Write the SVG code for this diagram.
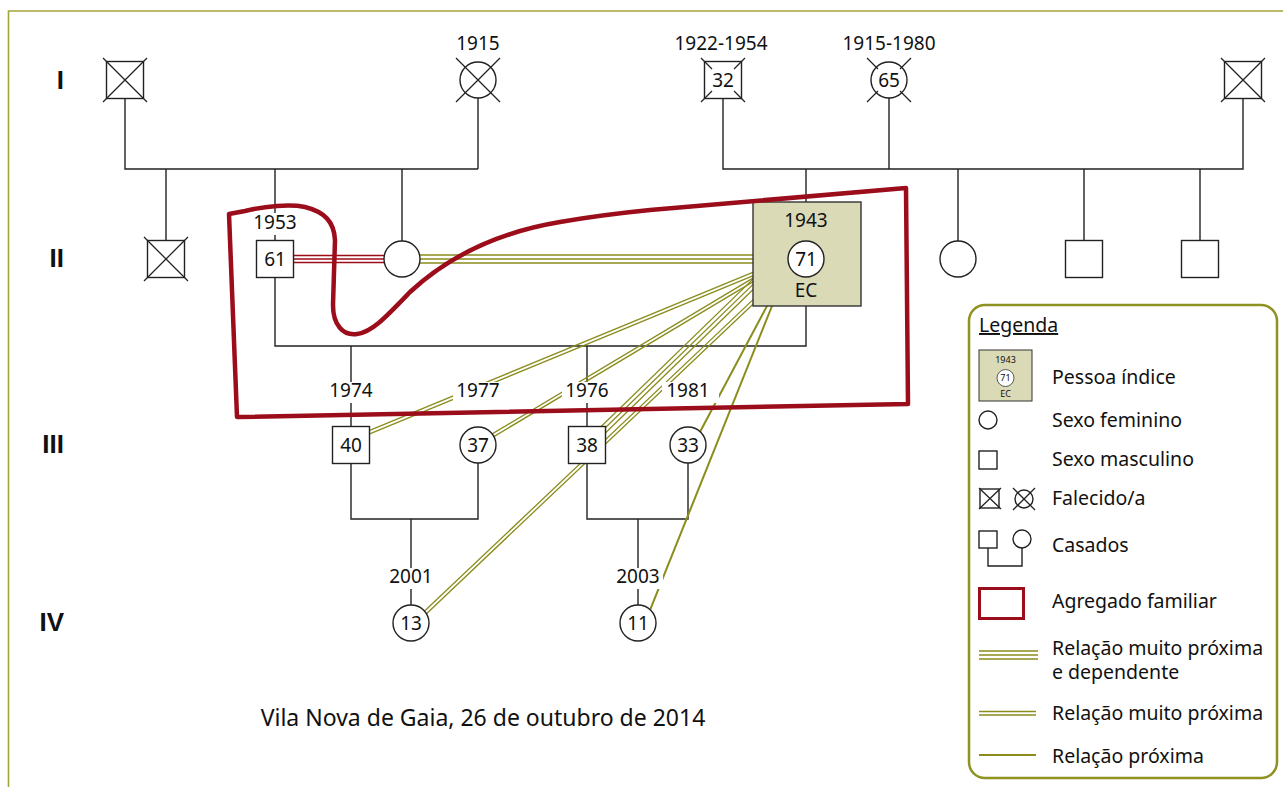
<svg xmlns="http://www.w3.org/2000/svg" width="1283" height="787" viewBox="0 0 1283 787">
<style>
.ln{stroke:#222;stroke-width:1.4;fill:none}
.nd{fill:#fff;stroke:#222;stroke-width:1.4}
.x{stroke:#222;stroke-width:1.3;fill:none}
.ol{stroke:#8a8c1c;stroke-width:1.3;fill:none}
.ol1{stroke:#8a8c1c;stroke-width:2;fill:none}
.rd{stroke:#9b0d1b;stroke-width:1.3;fill:none}
.t{font-family:"Noto Sans","Open Sans",sans-serif;font-size:19px;fill:#111;text-anchor:middle}
.g{font-family:"Liberation Sans","DejaVu Sans",sans-serif;font-size:26px;font-weight:bold;fill:#111;text-anchor:end}
.lt{font-family:"Noto Sans","Open Sans",sans-serif;font-size:19.5px;fill:#111}
.s{font-family:"Noto Sans","Open Sans",sans-serif;font-size:9px;fill:#111;text-anchor:middle}
.bg{fill:#fff}
.idx{fill:#dadab7;stroke:#333;stroke-width:1.4}
</style>
<g id="frame">
<path d="M8.5 787 V11 H1283" fill="none" stroke="#a3a43c" stroke-width="1.6"/>
</g>
<g id="generations">
<text class="g" x="64" y="89">I</text>
<text class="g" x="64" y="267">II</text>
<text class="g" x="64" y="453">III</text>
<text class="g" x="64" y="631">IV</text>
</g>
<g id="connectors">
<path class="ln" d="M125 98.5 V169 H478 M478 98 V169 M166 169 V240.5 M275 169 V240.5 M402 169 V241"/>
<path class="ln" d="M723 98.5 V169 H1243 V98.5 M889 98 V169 M806 169 V202 M958 169 V241 M1084 169 V240.5 M1200 169 V240.5"/>
<path class="ln" d="M275 277.5 V346 H806 V306 M351 346 V426.5 M587 346 V426.5"/>
<path class="ln" d="M351 463.5 V519 H478 V463 M411 519 V605 M587 463.5 V519 H688 V463 M638 519 V605"/>
<path class="rd" d="M280 255.5 H395 M280 259 H395 M280 262.5 H395"/>
<path class="ol" d="M410 255 H760 M410 259 H760 M410 263 H760"/>
<path class="ol" d="M360.61 437.58 L760.61 272.58 M359.39 434.62 L759.39 269.62"/>
<path class="ol" d="M485.82 441.37 L760.82 277.17 M484.18 438.63 L759.18 274.43"/>
<path class="ol" d="M595 437.7 L760 277.6 M597.65 440.43 L762.65 280.33 M592.35 434.97 L757.35 274.87"/>
<path class="ol" d="M419.1 620.66 L761.1 296.46 M416.9 618.34 L758.9 294.14"/>
<path class="ol1" d="M695.3 440.8 L770.8 298.9"/>
<path class="ol1" d="M646.3 619.3 L775 298.5"/>
</g>
<g id="labels">
<rect class="bg" x="250" y="213" width="50" height="22"/><text class="t" x="275" y="229">1953</text>
<rect class="bg" x="326" y="382" width="50" height="21"/><text class="t" x="351" y="397">1974</text>
<rect class="bg" x="453" y="382" width="50" height="21"/><text class="t" x="478" y="397">1977</text>
<rect class="bg" x="562" y="382" width="50" height="21"/><text class="t" x="587" y="397">1976</text>
<rect class="bg" x="662" y="382" width="57" height="21"/><text class="t" x="688" y="397">1981</text>
<rect class="bg" x="386" y="568" width="50" height="21"/><text class="t" x="411" y="583">2001</text>
<rect class="bg" x="613" y="568" width="50" height="21"/><text class="t" x="638" y="583">2003</text>
<text class="t" x="478" y="50">1915</text>
<text class="t" x="721" y="50">1922-1954</text>
<text class="t" x="889" y="50">1915-1980</text>
</g>
<g id="n-I1"><rect class="nd" x="106.5" y="61.5" width="37" height="37"/><path class="x" d="M103 58 L147 102 M147 58 L103 102"/></g>
<g id="n-I2"><circle class="nd" cx="478" cy="80" r="18"/><path class="x" d="M456 58 L500 102 M500 58 L456 102"/></g>
<g id="n-I3"><rect class="nd" x="704.5" y="61.5" width="37" height="37"/><path class="x" d="M701 58 L712 69 M745 58 L734 69 M701 102 L712 91 M745 102 L734 91"/><text class="t" x="723" y="87">32</text></g>
<g id="n-I4"><circle class="nd" cx="889" cy="80" r="18"/><path class="x" d="M867 58 L878 69 M911 58 L900 69 M867 102 L878 91 M911 102 L900 91"/><text class="t" x="889" y="87">65</text></g>
<g id="n-I5"><rect class="nd" x="1224.5" y="61.5" width="37" height="37"/><path class="x" d="M1221 58 L1265 102 M1265 58 L1221 102"/></g>
<g id="n-II1"><rect class="nd" x="147.5" y="240.5" width="37" height="37"/><path class="x" d="M144 237 L188 281 M188 237 L144 281"/></g>
<g id="n-II2"><rect class="nd" x="256.5" y="240.5" width="37" height="37"/><text class="t" x="275" y="266">61</text></g>
<g id="n-II3"><circle class="nd" cx="402" cy="259" r="18"/></g>
<g id="n-EC"><rect class="idx" x="753" y="202" width="108" height="104"/><text class="t" x="806" y="227">1943</text><circle class="nd" cx="806" cy="259" r="18"/><text class="t" x="806" y="266">71</text><text class="t" x="806" y="297">EC</text></g>
<g id="n-II5"><circle class="nd" cx="958" cy="259" r="18"/></g>
<g id="n-II6"><rect class="nd" x="1065.5" y="240.5" width="37" height="37"/></g>
<g id="n-II7"><rect class="nd" x="1181.5" y="240.5" width="37" height="37"/></g>
<g id="n-III1"><rect class="nd" x="332.5" y="426.5" width="37" height="37"/><text class="t" x="351" y="452">40</text></g>
<g id="n-III2"><circle class="nd" cx="478" cy="445" r="18"/><text class="t" x="478" y="452">37</text></g>
<g id="n-III3"><rect class="nd" x="568.5" y="426.5" width="37" height="37"/><text class="t" x="587" y="452">38</text></g>
<g id="n-III4"><circle class="nd" cx="688" cy="445" r="18"/><text class="t" x="688" y="452">33</text></g>
<g id="n-IV1"><circle class="nd" cx="411" cy="623" r="18"/><text class="t" x="411" y="630">13</text></g>
<g id="n-IV2"><circle class="nd" cx="638" cy="623" r="18"/><text class="t" x="638" y="630">11</text></g>
<g id="household">
<path d="M229 214 L245 211 C265 206 290 204 305 207 C325 212 334 222 335 240 L333 305 C333 325 343 336 357 334 C372 332 385 318 410 292 C450 255 500 232 560 222 C600 215 630 212 650 210 L906 188 L908 404 L237 417 Z" fill="none" stroke="#9b0d1b" stroke-width="4.5" stroke-linejoin="round"/>
</g>
<g id="footer"><text class="t" x="483" y="726" style="font-size:23px">Vila Nova de Gaia, 26 de outubro de 2014</text></g>
<g id="legend">
<rect x="969" y="305" width="308" height="473" rx="16" fill="#fff" stroke="#8f9120" stroke-width="2.5"/>
<text class="lt" x="979" y="332" text-decoration="underline">Legenda</text>
<rect class="idx" x="979" y="350" width="53" height="51" style="stroke-width:1"/>
<text class="s" x="1005.5" y="363">1943</text>
<circle cx="1005.5" cy="378" r="8.5" fill="#fff" stroke="#333" stroke-width="0.8"/>
<text class="s" x="1005.5" y="381">71</text>
<text class="s" x="1005.5" y="397">EC</text>
<text class="lt" x="1052" y="384">Pessoa índice</text>
<circle class="nd" cx="988" cy="420" r="9"/>
<text class="lt" x="1052" y="427">Sexo feminino</text>
<rect class="nd" x="979" y="451" width="18" height="18"/>
<text class="lt" x="1052" y="466">Sexo masculino</text>
<rect class="nd" x="980" y="489" width="19" height="19"/>
<path class="x" d="M979 488 L1001 509 M1001 488 L979 509"/>
<circle class="nd" cx="1024" cy="499" r="9"/>
<path class="x" d="M1013 488 L1035 510 M1035 488 L1013 510"/>
<text class="lt" x="1052" y="505">Falecido/a</text>
<rect class="nd" x="979" y="531" width="18" height="17"/>
<circle class="nd" cx="1022" cy="539" r="9"/>
<path class="ln" d="M988 548 V566 H1022 V548"/>
<text class="lt" x="1052" y="552">Casados</text>
<rect x="979.5" y="588.5" width="44" height="30" fill="none" stroke="#9b0d1b" stroke-width="3"/>
<text class="lt" x="1052" y="608">Agregado familiar</text>
<path class="ol" d="M979 651 H1038 M979 655 H1038 M979 659 H1038"/>
<text class="lt" x="1052" y="655">Relação muito próxima<tspan x="1052" dy="24">e dependente</tspan></text>
<path class="ol" d="M979 711.5 H1036 M979 715 H1036"/>
<text class="lt" x="1052" y="720">Relação muito próxima</text>
<path class="ol1" d="M979 755 H1036"/>
<text class="lt" x="1052" y="763">Relação próxima</text>
</g>
</svg>
